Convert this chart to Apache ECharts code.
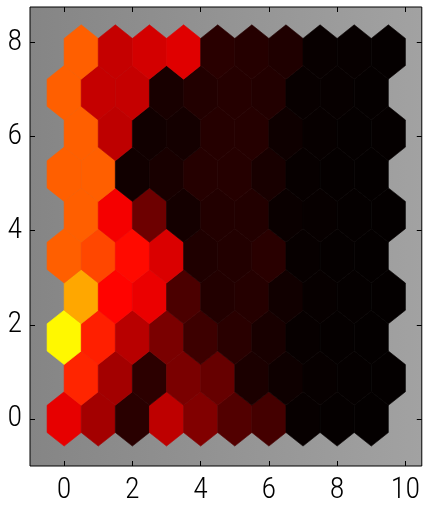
<!DOCTYPE html>
<html>
<head>
<meta charset="utf-8">
<script src="https://cdn.jsdelivr.net/npm/echarts@6/dist/echarts.min.js"></script>
<style>
  html, body { margin: 0; padding: 0; background: #ffffff; }
  #chart { width: 423px; height: 511px; }
</style>
</head>
<body>
<div id="chart"></div>
<script>
// Component-plane values on a 10 x 10 hexagonal SOM lattice (row 0 at the bottom).
// Values are positions on the "hot" colour scale (0 = black, 0.75 = yellow).
const row0 = [0.34, 0.24, 0.06, 0.28, 0.19, 0.12, 0.10, 0.010, 0.008, 0.006];
const row1 = [0.43, 0.24, 0.065, 0.18, 0.15, 0.04, 0.02, 0.010, 0.008, 0.006];
const row2 = [0.74, 0.42, 0.27, 0.18, 0.09, 0.06, 0.035, 0.010, 0.008, 0.006];
const row3 = [0.62, 0.38, 0.345, 0.11, 0.05, 0.055, 0.025, 0.010, 0.008, 0.006];
const row4 = [0.515, 0.48, 0.39, 0.32, 0.045, 0.05, 0.06, 0.010, 0.008, 0.006];
const row5 = [0.515, 0.36, 0.16, 0.03, 0.05, 0.05, 0.015, 0.010, 0.008, 0.006];
const row6 = [0.515, 0.515, 0.025, 0.035, 0.055, 0.055, 0.035, 0.010, 0.008, 0.006];
const row7 = [0.515, 0.28, 0.025, 0.03, 0.055, 0.055, 0.02, 0.010, 0.008, 0.008];
const row8 = [0.515, 0.29, 0.29, 0.035, 0.05, 0.055, 0.05, 0.012, 0.010, 0.008];
const row9 = [0.515, 0.29, 0.31, 0.33, 0.06, 0.055, 0.045, 0.012, 0.010, 0.008];
const rows = [row0, row1, row2, row3, row4, row5, row6, row7, row8, row9];

const xTicks = [0, 2, 4, 6, 8, 10];
const yTicks = [0, 2, 4, 6, 8];

// MATLAB-style "hot" colormap sampled at eighths
const hotColors = ['#000000', '#550000', '#aa0000', '#ff0000', '#ff5500', '#ffaa00', '#ffff00', '#ffff80', '#ffffff'];

// Hexagonal lattice: odd rows shifted half a unit, row spacing sqrt(3)/2
const ROW_STEP = Math.sqrt(3) / 2;
const R = 1 / Math.sqrt(3);
const HEX = [[0.5, R / 2], [0, R], [-0.5, R / 2], [-0.5, -R / 2], [0, -R], [0.5, -R / 2]];

const cells = [];
rows.forEach(function (vals, r) {
  vals.forEach(function (v, c) {
    cells.push([c + (r % 2) * 0.5, r * ROW_STEP, v]);
  });
});

const chart = echarts.init(document.getElementById('chart'), null, { renderer: 'canvas' });

const labelFont = {
  color: '#000',
  fontSize: 30,
  fontWeight: 300,
  fontFamily: "'Roboto Condensed', 'DejaVu Sans Condensed', sans-serif"
};

// Box-style axes: ticks point inward on all four sides, kept on the plot edges
function xAxisDef(pos, showLabels) {
  return {
    type: 'value', min: -1, max: 10.48, position: pos,
    axisLine: { show: false, onZero: false },
    splitLine: { show: false },
    axisTick: { show: true, inside: true, length: 5, customValues: xTicks, lineStyle: { color: '#000', width: 1 } },
    axisLabel: Object.assign({ show: showLabels, margin: 9, customValues: xTicks }, labelFont)
  };
}
function yAxisDef(pos, showLabels) {
  return {
    type: 'value', min: -1, max: 8.75, position: pos,
    axisLine: { show: false, onZero: false },
    splitLine: { show: false },
    axisTick: { show: true, inside: true, length: 5, customValues: yTicks, lineStyle: { color: '#000', width: 1 } },
    axisLabel: Object.assign({ show: showLabels, margin: 8, customValues: yTicks }, labelFont)
  };
}

chart.setOption({
  animation: false,
  backgroundColor: '#ffffff',
  grid: {
    left: 30, top: 7, right: -3, bottom: 45,
    show: true,
    backgroundColor: {
      type: 'linear', x: 0, y: 0, x2: 1, y2: 0,
      colorStops: [{ offset: 0, color: '#858585' }, { offset: 1, color: '#a2a2a2' }]
    },
    borderColor: '#000', borderWidth: 1
  },
  xAxis: [xAxisDef('bottom', true), xAxisDef('top', false)],
  yAxis: [yAxisDef('left', true), yAxisDef('right', false)],
  visualMap: {
    show: false, type: 'continuous', min: 0, max: 1, dimension: 2, seriesIndex: 0,
    inRange: { color: hotColors }
  },
  series: [{
    type: 'custom',
    coordinateSystem: 'cartesian2d',
    xAxisIndex: 0, yAxisIndex: 0,
    encode: { x: 0, y: 1 },
    data: cells,
    renderItem: function (params, api) {
      const cx = api.value(0), cy = api.value(1);
      const pts = HEX.map(function (d) { return api.coord([cx + d[0], cy + d[1]]); });
      const col = api.visual('color');
      return {
        type: 'polygon',
        shape: { points: pts },
        style: { fill: col, stroke: col, lineWidth: 0.6 }
      };
    }
  }]
});
</script>
</body>
</html>
